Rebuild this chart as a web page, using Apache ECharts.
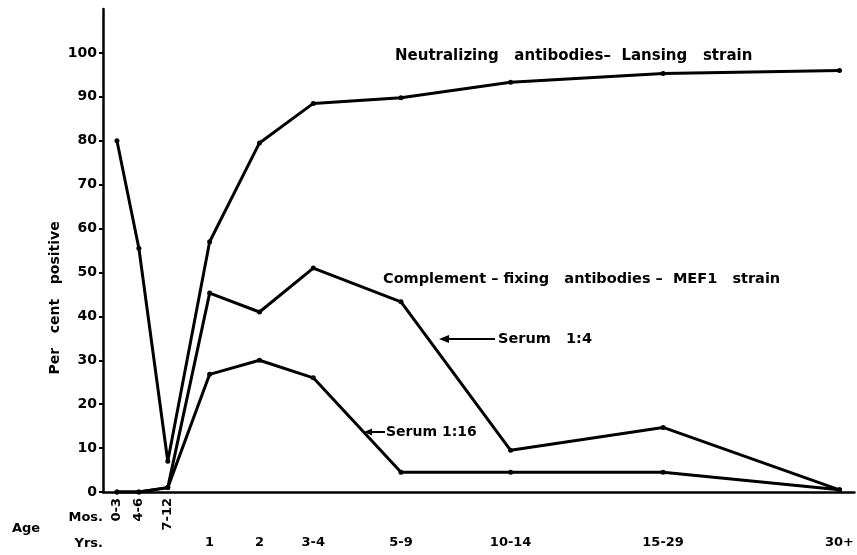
<!DOCTYPE html>
<html>
<head>
<meta charset="utf-8">
<title>Per cent positive by age</title>
<script src="https://cdn.jsdelivr.net/npm/echarts@6/dist/echarts.min.js"></script>
<style>
    html, body { margin: 0; padding: 0; background: #fff; }
    #chart { width: 857px; height: 555px; }
</style>
</head>
<body>
<div id="chart"></div>
<script>
// 年龄组（月 / 年）
var monthGroups = ['0-3', '4-6', '7-12'];
var yearGroups = ['1', '2', '3-4', '5-9', '10-14', '15-29', '30+'];
var ageGroups = monthGroups.concat(yearGroups);
// 年龄轴上各组的位置（原图横轴不等距）
var agePos = [14, 36, 65, 107, 157, 211, 299, 409, 562, 739];
// 百分比数据
var neutralizing = [80, 55.5, 7, 57, 79.5, 88.5, 89.8, 93.3, 95.3, 96];
var cfSerum4 = [0, 0, 1, 45.3, 41, 51, 43.3, 9.5, 14.7, 0.5];
var cfSerum16 = [0, 0, 1, 26.8, 30, 26, 4.5, 4.5, 4.5, 0.5];
var yTicks = [0, 10, 20, 30, 40, 50, 60, 70, 80, 90, 100];

var FONT = 'DejaVu Sans';

function pairs(vals) {
    var out = [];
    for (var i = 0; i < vals.length; i++) {
        out.push([agePos[i], vals[i]]);
    }
    return out;
}

function labelFor(v) {
    var i = agePos.indexOf(v);
    return i < 0 ? '' : ageGroups[i];
}

function lineSeries(name, vals) {
    return {
        name: name,
        type: 'line',
        data: pairs(vals),
        symbol: 'circle',
        symbolSize: 5,
        lineStyle: { color: '#000', width: 3 },
        itemStyle: { color: '#000' },
        silent: true
    };
}

// 文字注释
function note(text, x, y, size, align) {
    return {
        type: 'text', x: x, y: y,
        style: { text: text, font: 'bold ' + size + 'px ' + FONT, fill: '#000', align: align || 'left', verticalAlign: 'middle' }
    };
}

var myChart = echarts.init(document.getElementById('chart'), null, { renderer: 'canvas' });

var option = {
    animation: false,
    backgroundColor: '#fff',
    grid: { left: 103, right: 0, top: 9, bottom: 63, containLabel: false },
    xAxis: [{
        // 主轴 + 年份标签
        type: 'value',
        min: 0, max: 754,
        axisLine: { show: true, lineStyle: { color: '#000', width: 2.5 } },
        axisTick: { show: false },
        splitLine: { show: false },
        axisLabel: {
            customValues: agePos.slice(3),
            formatter: labelFor,
            margin: 44,
            color: '#000',
            fontFamily: FONT,
            fontWeight: 'bold',
            fontSize: 13
        }
    }, {
        // 月份标签（竖排）
        type: 'value',
        min: 0, max: 754,
        position: 'bottom',
        axisLine: { show: false },
        axisTick: { show: false },
        splitLine: { show: false },
        axisLabel: {
            customValues: agePos.slice(0, 3),
            formatter: labelFor,
            rotate: 90,
            margin: 6,
            color: '#000',
            fontFamily: FONT,
            fontWeight: 'bold',
            fontSize: 13
        }
    }],
    yAxis: {
        type: 'value',
        min: 0, max: 110,
        axisLine: { show: true, lineStyle: { color: '#000', width: 2.5 } },
        axisTick: { show: true, customValues: yTicks, length: 4, lineStyle: { color: '#000', width: 2 } },
        splitLine: { show: false },
        axisLabel: {
            customValues: yTicks,
            margin: 6,
            color: '#000',
            fontFamily: FONT,
            fontWeight: 'bold',
            fontSize: 14
        }
    },
    series: [
        lineSeries('Neutralizing antibodies - Lansing strain', neutralizing),
        lineSeries('Serum 1:4', cfSerum4),
        lineSeries('Serum 1:16', cfSerum16)
    ],
    graphic: [
        // 纵轴标题
        {
            type: 'text', x: 55, y: 298, rotation: Math.PI / 2,
            style: { text: 'Per   cent   positive', font: 'bold 14px ' + FONT, fill: '#000', align: 'center', verticalAlign: 'middle' }
        },
        // 横轴说明
        note('Age', 12, 529, 13),
        note('Mos.', 103, 518, 13, 'right'),
        note('Yrs.', 103, 544, 13, 'right'),
        // 曲线注释
        note('Neutralizing   antibodies\u2013  Lansing   strain', 395, 56, 15),
        note('Complement \u2013 fixing   antibodies \u2013  MEF1   strain', 383, 279, 14.5),
        // Serum 1:4 箭头
        { type: 'line', shape: { x1: 446, y1: 339, x2: 495, y2: 339 }, style: { stroke: '#000', lineWidth: 2 } },
        { type: 'polygon', shape: { points: [[439, 339], [449, 335], [449, 343]] }, style: { fill: '#000' } },
        note('Serum   1:4', 498, 339, 14.5),
        // Serum 1:16 箭头
        { type: 'line', shape: { x1: 370, y1: 432, x2: 385, y2: 432 }, style: { stroke: '#000', lineWidth: 2 } },
        { type: 'polygon', shape: { points: [[364, 432], [372, 428.5], [372, 435.5]] }, style: { fill: '#000' } },
        note('Serum 1:16', 386, 432, 14)
    ]
};

myChart.setOption(option);
</script>
</body>
</html>
